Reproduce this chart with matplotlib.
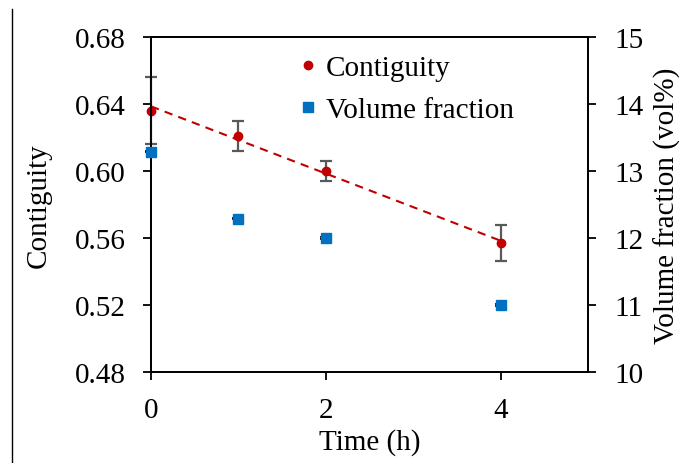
import numpy as np
import matplotlib
matplotlib.use('Agg')
import matplotlib.pyplot as plt
from matplotlib.lines import Line2D

plt.rcParams['font.family'] = ['Liberation Serif', 'DejaVu Serif']
plt.rcParams['font.size'] = 21

# data
time_h = [0, 1, 2, 4]
contiguity = [0.636, 0.621, 0.600, 0.557]
contiguity_err = [0.020, 0.009, 0.006, 0.011]
vol_frac = [13.29, 12.29, 12.00, 11.00]
vol_frac_err = [0.01, 0.01, 0.01, 0.01]

red = '#C00000'
blue = '#0070C0'
grey = '#595959'

fig = plt.figure(figsize=(6.81, 4.64), dpi=100)
ax = fig.add_axes([151 / 681, 1 - 373 / 464, 437 / 681, 335 / 464])
ax2 = ax.twinx()

# linear trend of contiguity
slope, icpt = np.polyfit(time_h, contiguity, 1)
tx = np.array([0, 4])
ax.plot(tx, slope * tx + icpt, color=red, lw=1.5, ls=(0, (4, 3)), zorder=2)

ax.errorbar(time_h, contiguity, yerr=contiguity_err, fmt='o', color=red, ms=6,
            ecolor=grey, elinewidth=1.6, capsize=4.5, capthick=1.6,
            clip_on=False, zorder=3)
ax2.errorbar(time_h, vol_frac, yerr=vol_frac_err, fmt='s', color=blue, ms=6.5,
             ecolor='black', elinewidth=1.2, capsize=4.5, capthick=1.2,
             clip_on=False, zorder=3)

ax.set_xlim(0, 5)
ax.set_xticks([0, 2, 4])
ax.set_ylim(0.48, 0.68)
yt = np.arange(0.48, 0.681, 0.04)
ax.set_yticks(yt)
ax.set_yticklabels([f'{v:.2f}' for v in yt])
ax2.set_ylim(10, 15)
ax2.set_yticks(range(10, 16))

for a in (ax, ax2):
    for s in a.spines.values():
        s.set_linewidth(1.3)
    a.tick_params(direction='out', length=6, width=1.3)
ax.tick_params(axis='x', pad=12)
ax.tick_params(axis='y', pad=12)
ax2.tick_params(axis='y', pad=13)

ax.set_xlabel('Time (h)', labelpad=4)
ax.set_ylabel('Contiguity', labelpad=17)
ax2.set_ylabel('Volume fraction (vol%)', labelpad=7)

handles = [Line2D([], [], ls='none', marker='o', color=red, ms=6),
           Line2D([], [], ls='none', marker='s', color=blue, ms=6.5)]
ax2.legend(handles, ['Contiguity', 'Volume fraction'], loc='center left',
           bbox_to_anchor=(0.34, 0.845), frameon=False, handlelength=0.6,
           handletextpad=0.3, labelspacing=0.52, borderpad=0, borderaxespad=0)

# stray border line at the left edge of the original image
fig.add_artist(Line2D([12 / 681, 12 / 681], [0, 1 - 10 / 464], color='black', lw=1))

fig.savefig('out.png', dpi=100)
